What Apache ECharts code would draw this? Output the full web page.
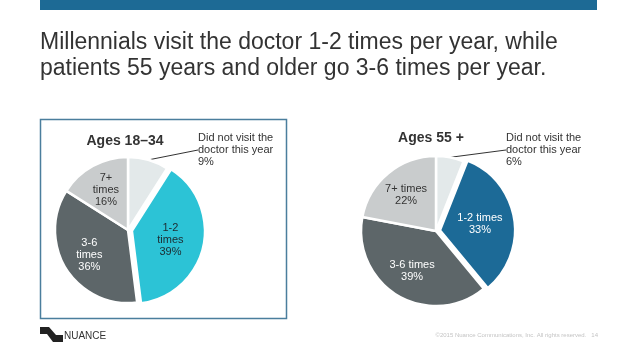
<!DOCTYPE html>
<html>
<head>
<meta charset="utf-8">
<script src="https://cdn.jsdelivr.net/npm/echarts@6/dist/echarts.min.js"></script>
<style>
html,body{margin:0;padding:0;background:#fff;}
#main{width:638px;height:359px;}
</style>
</head>
<body>
<div id="main"></div>
<script>
// ---- data ----
const headline = 'Millennials visit the doctor 1-2 times per year, while\npatients 55 years and older go 3-6 times per year.';
const groups = ['Ages 18–34', 'Ages 55 +'];
const categories = ['Did not visit the doctor this year', '1-2 times', '3-6 times', '7+ times'];
const ages18to34 = [9, 39, 36, 16];
const ages55plus = [6, 33, 39, 22];
const footerText = '©2015 Nuance Communications, Inc. All rights reserved.   14';

// ---- styles ----
const leftColors = ['#e3e9ea', '#2cc3d6', '#5d6669', '#c9cccd'];
const rightColors = ['#e3e9ea', '#1c6a97', '#5d6669', '#c9cccd'];
const leftLabelColors = ['#333333', '#1d2b31', '#ffffff', '#333333'];
const rightLabelColors = ['#333333', '#ffffff', '#ffffff', '#333333'];
const FONT = '"Liberation Sans", Arial, Helvetica, sans-serif';

const pies = [
  { center: [128, 230], radius: 73, note: [198, 150] },
  { center: [436, 231], radius: 75, note: [506, 150] }
];

function wrapName(name, stacked) {
  if (name.indexOf('Did not') === 0) return name.replace(' doctor', '\ndoctor');
  return stacked ? name.replace(' ', '\n') : name;
}

function buildData(values, colors, labelColors) {
  return values.map(function (v, i) {
    const item = {
      name: categories[i],
      value: v,
      itemStyle: { color: colors[i] },
      label: { color: labelColors[i] }
    };
    if (i === 0) {
      item.label = { position: 'outside', color: '#333', align: 'left' };
      item.labelLine = { show: true, length: 8, length2: 0, lineStyle: { color: '#333', width: 1 } };
    }
    if (i === 1) item.selected = true;
    return item;
  });
}

function makeSeries(idx, values, colors, labelColors, stacked) {
  const p = pies[idx];
  return {
    type: 'pie',
    center: p.center,
    radius: p.radius,
    startAngle: 90,
    clockwise: true,
    avoidLabelOverlap: false,
    selectedMode: 'single',
    selectedOffset: 4,
    animation: false,
    emphasis: { disabled: true },
    itemStyle: { borderColor: '#ffffff', borderWidth: 2.5 },
    label: {
      position: 'inside',
      fontFamily: FONT,
      fontSize: 11,
      lineHeight: 12,
      formatter: function (prm) {
        return wrapName(prm.name, stacked) + '\n' + prm.value + '%';
      }
    },
    labelLine: { show: false },
    labelLayout: function (prm) {
      if (prm.dataIndex === 0) {
        return { x: p.note[0], y: p.note[1], align: 'left', verticalAlign: 'middle' };
      }
      const r = prm.labelRect;
      const lx = r.x + r.width / 2, ly = r.y + r.height / 2;
      const k = 1.16;
      return { x: p.center[0] + (lx - p.center[0]) * k, y: p.center[1] + (ly - p.center[1]) * k };
    },
    data: buildData(values, colors, labelColors)
  };
}

const chart = echarts.init(document.getElementById('main'), null, { renderer: 'canvas' });
chart.setOption({
  backgroundColor: '#ffffff',
  animation: false,
  title: {
    text: headline,
    left: 35,
    top: 25,
    textStyle: { fontFamily: FONT, fontSize: 23, fontWeight: 'normal', color: '#333333', lineHeight: 26 }
  },
  graphic: [
    { type: 'rect', shape: { x: 40, y: 0, width: 557, height: 10 }, style: { fill: '#1d6a95' } },
    { type: 'rect', shape: { x: 40.5, y: 119.5, width: 246, height: 199 }, style: { fill: 'none', stroke: '#4a7e9d', lineWidth: 1.5 } },
    { type: 'text', x: 125, y: 141, style: { text: groups[0], font: 'bold 14px ' + FONT, fill: '#333', textAlign: 'center', textVerticalAlign: 'middle' } },
    { type: 'text', x: 431, y: 138, style: { text: groups[1], font: 'bold 14px ' + FONT, fill: '#333', textAlign: 'center', textVerticalAlign: 'middle' } },
    { type: 'polygon', shape: { points: [[40, 327], [49, 327], [56, 335], [63, 335], [63, 342], [53, 342], [47, 334], [40, 334]] }, style: { fill: '#222' } },
    { type: 'text', x: 64, y: 336, style: { text: 'NUANCE', font: '10px ' + FONT, fill: '#333', textVerticalAlign: 'middle' } },
    { type: 'text', x: 598, y: 335, style: { text: footerText, font: '6px ' + FONT, fill: '#c4c4c4', textAlign: 'right', textVerticalAlign: 'middle' } }
  ],
  series: [
    makeSeries(0, ages18to34, leftColors, leftLabelColors, true),
    makeSeries(1, ages55plus, rightColors, rightLabelColors, false)
  ]
});
</script>
</body>
</html>
